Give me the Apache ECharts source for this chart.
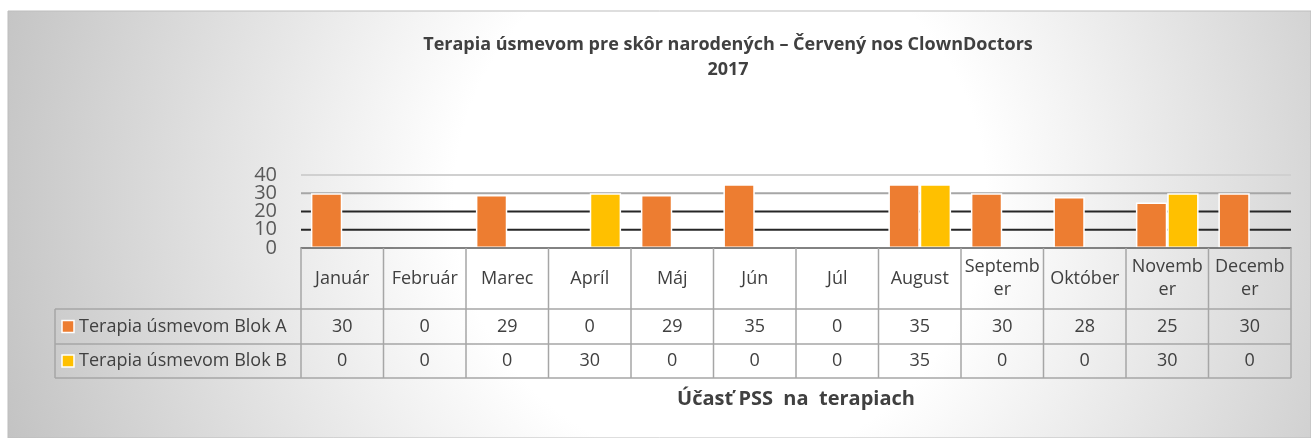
<!DOCTYPE html>
<html>
<head>
<meta charset="utf-8">
<script src="https://cdn.jsdelivr.net/npm/echarts@6/dist/echarts.min.js"></script>
<style>
  html, body { margin: 0; padding: 0; background: #fff; }
  #chart { width: 1311px; height: 438px; }
</style>
</head>
<body>
<div id="chart"></div>
<script>
'use strict';

const months = ["Január", "Február", "Marec", "Apríl", "Máj", "Jún", "Júl", "August", "September", "Október", "November", "December"];
const blokA = [30, 0, 29, 0, 29, 35, 0, 35, 30, 28, 25, 30];
const blokB = [0, 0, 0, 30, 0, 0, 0, 35, 0, 0, 30, 0];
const seriesNames = ["Terapia úsmevom Blok A", "Terapia úsmevom Blok B"];
const seriesColors = ["#ED7D31", "#FFC000"];
const yTicks = [0, 10, 20, 30, 40];
const gridColors = ['#595959', '#262626', '#262626', '#a6a6a6', '#d0d0d0'];

const FONT = '"Open Sans", "Noto Sans", sans-serif';
const gridLeft = 301, gridRight = 20, gridTop = 175, gridBottom = 190;
const H = 438, W = 1311;
const plotBottom = H - gridBottom;
const rowA = 309, rowB = 344, tableBottom = 378, legendLeft = 55;
const lineCol = '#a6a6a6';

const chart = echarts.init(document.getElementById('chart'));

const option = {
  animation: false,
  backgroundColor: '#fff',
  title: {
    text: 'Terapia úsmevom pre skôr narodených – Červený nos ClownDoctors\n2017',
    left: 723,
    textAlign: 'center',
    top: 27,
    textStyle: { fontFamily: FONT, fontSize: 18, fontWeight: 'bold', color: '#404040', lineHeight: 25 }
  },
  grid: { left: gridLeft, right: gridRight, top: gridTop, bottom: gridBottom },
  xAxis: {
    type: 'category',
    data: months,
    z: 5,
    axisLine: { lineStyle: { color: '#595959', width: 1.5 } },
    axisTick: { show: false },
    axisLabel: { show: false }
  },
  yAxis: {
    type: 'value',
    min: yTicks[0],
    max: yTicks[yTicks.length - 1],
    interval: 10,
    axisLine: { show: false },
    axisTick: { show: false },
    axisLabel: { show: false },
    splitLine: { show: false }
  },
  series: [
    {
      name: seriesNames[0], type: 'bar', data: blokA,
      barGap: '0%', barCategoryGap: '24%',
      itemStyle: { color: seriesColors[0], borderColor: '#fff', borderWidth: 1.5 }
    },
    {
      name: seriesNames[1], type: 'bar', data: blokB,
      itemStyle: { color: seriesColors[1], borderColor: '#fff', borderWidth: 1.5 }
    }
  ]
};
chart.setOption(option);

function drawTable() {
  const els = [];
  const right = W - gridRight;
  // chart area background
  els.push({
    type: 'rect', z: -100, silent: true,
    shape: { x: 8, y: 11, width: W - 8, height: H - 11 },
    style: {
      fill: { type: 'radial', x: 720, y: 200, r: 760, global: true,
        colorStops: [{ offset: 0, color: '#ffffff' }, { offset: 0.35, color: '#ffffff' }, { offset: 1, color: '#c2c2c2' }] },
      stroke: '#bdbdbd', lineWidth: 1
    }
  });
  // gridlines and y-axis tick labels (Excel lets the labels overlap, so draw them all)
  yTicks.forEach((v, i) => {
    const y = chart.convertToPixel({ yAxisIndex: 0 }, v);
    if (i > 0) {
      els.push({ type: 'line', z: 1, shape: { x1: gridLeft, y1: y, x2: right, y2: y },
        style: { stroke: gridColors[i], lineWidth: 2 } });
    }
    els.push({ type: 'text', z: 11, style: {
      text: String(v), x: gridLeft - 24, y: y, align: 'right', verticalAlign: 'middle',
      fontFamily: FONT, fontSize: 20, fill: '#595959' } });
  });
  const colW = (W - gridLeft - gridRight) / months.length;
  // vertical cell borders
  for (let i = 0; i <= months.length; i++) {
    const x = gridLeft + i * colW;
    els.push({ type: 'line', z: 10, shape: { x1: x, y1: plotBottom, x2: x, y2: tableBottom },
      style: { stroke: lineCol, lineWidth: 1.5 } });
  }
  els.push({ type: 'line', z: 10, shape: { x1: legendLeft, y1: rowA, x2: legendLeft, y2: tableBottom },
    style: { stroke: lineCol, lineWidth: 1.5 } });
  [rowA, rowB, tableBottom].forEach(y => {
    els.push({ type: 'line', z: 10, shape: { x1: legendLeft, y1: y, x2: right, y2: y },
      style: { stroke: lineCol, lineWidth: 1.5 } });
  });
  const rows = [blokA, blokB];
  const rowMid = [(rowA + rowB) / 2, (rowB + tableBottom) / 2];
  months.forEach((m, i) => {
    const cx = chart.convertToPixel({ xAxisIndex: 0 }, m);
    els.push({ type: 'text', z: 11, style: {
      text: m, x: cx, y: (plotBottom + rowA) / 2, align: 'center', verticalAlign: 'middle',
      width: colW - 5, overflow: 'breakAll', lineHeight: 23,
      fontFamily: FONT, fontSize: 18, fill: '#404040' } });
    rows.forEach((r, k) => {
      els.push({ type: 'text', z: 11, style: {
        text: String(r[i]), x: cx, y: rowMid[k], align: 'center', verticalAlign: 'middle',
        fontFamily: FONT, fontSize: 18, fill: '#404040' } });
    });
  });
  // legend keys in the row headers
  seriesNames.forEach((n, k) => {
    els.push({ type: 'rect', z: 11, shape: { x: 62, y: rowMid[k] - 6, width: 12, height: 12 },
      style: { fill: seriesColors[k], stroke: '#fff', lineWidth: 1.5 } });
    els.push({ type: 'text', z: 11, style: {
      text: n, x: 79, y: rowMid[k], align: 'left', verticalAlign: 'middle',
      fontFamily: FONT, fontSize: 18, fill: '#404040' } });
  });
  // axis title
  els.push({ type: 'text', z: 11, style: {
    text: 'Účasť PSS  na  terapiach', x: 796, y: 399, align: 'center', verticalAlign: 'middle',
    fontFamily: FONT, fontSize: 20, fontWeight: 'bold', fill: '#404040' } });
  chart.setOption({ graphic: { elements: els } });
}
drawTable();
</script>
</body>
</html>
